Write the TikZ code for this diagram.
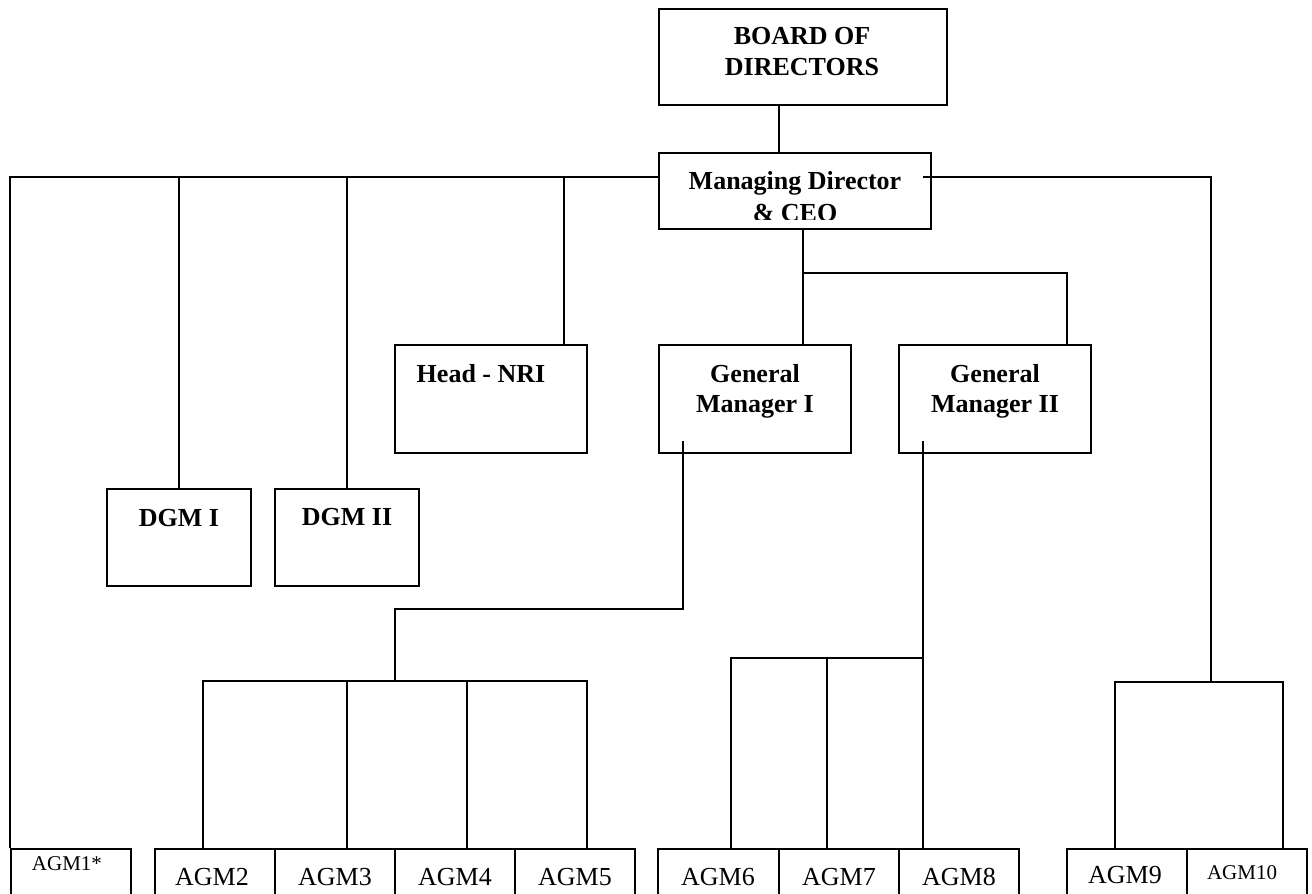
\documentclass[tikz,border=0pt]{standalone}
\usepackage{fontspec}
\setmainfont{Liberation Serif}
\usetikzlibrary{calc}
\begin{document}
\begin{tikzpicture}[x=1pt,y=-1pt,
  box/.style={draw, line width=2pt, rectangle, inner sep=0pt},
  conn/.style={line width=2pt},
  bt/.style={font=\fontsize{26}{30}\selectfont\bfseries, anchor=base, inner sep=0pt},
  rt/.style={font=\fontsize{26}{30}\selectfont, anchor=base, inner sep=0pt},
  st/.style={font=\fontsize{21}{24}\selectfont, anchor=base, inner sep=0pt}]
\useasboundingbox (0,0) rectangle (1312,894);
\clip (0,0) rectangle (1312,894);

% boxes
\node[box, minimum width=288pt, minimum height=96pt] (board) at (803,57) {};
\node[box, minimum width=272pt, minimum height=76pt] (md) at (795,191) {};
\node[box, minimum width=192pt, minimum height=108pt] (nri) at (491,399) {};
\node[box, minimum width=192pt, minimum height=108pt] (gm1) at (755,399) {};
\node[box, minimum width=192pt, minimum height=108pt] (gm2) at (995,399) {};
\node[box, minimum width=144pt, minimum height=97pt] (dgm1) at (179,537.5) {};
\node[box, minimum width=144pt, minimum height=97pt] (dgm2) at (347,537.5) {};
\node[box, minimum width=120pt, minimum height=91pt] (agm1) at (71,894.5) {};
\node[box, minimum width=120pt, minimum height=91pt] (agm2) at (215,894.5) {};
\node[box, minimum width=120pt, minimum height=91pt] (agm3) at (335,894.5) {};
\node[box, minimum width=120pt, minimum height=91pt] (agm4) at (455,894.5) {};
\node[box, minimum width=120pt, minimum height=91pt] (agm5) at (575,894.5) {};
\node[box, minimum width=121pt, minimum height=91pt] (agm6) at (718.5,894.5) {};
\node[box, minimum width=120pt, minimum height=91pt] (agm7) at (839,894.5) {};
\node[box, minimum width=120pt, minimum height=91pt] (agm8) at (959,894.5) {};
\node[box, minimum width=120pt, minimum height=91pt] (agm9) at (1127,894.5) {};
\node[box, minimum width=120pt, minimum height=91pt] (agm10) at (1247,894.5) {};

% texts
\node[bt] (tb1) at (802,44) {BOARD OF};
\node[bt] (tb2) at (802,75) {DIRECTORS};
\begin{scope}
\clip (659,150) rectangle (931,219);
\node[bt] (tm1) at (795,189) {Managing Director};
\node[bt] (tm2) at (795,221) {\& CEO};
\end{scope}
\node[bt] (tn) at (481,382) {Head - NRI};
\node[bt] (tg1a) at (755,382) {General};
\node[bt] (tg1b) at (755,412) {Manager I};
\node[bt] (tg2a) at (995,382) {General};
\node[bt] (tg2b) at (995,412) {Manager II};
\node[bt] (td1) at (179,526) {DGM I};
\node[bt] (td2) at (347,525) {DGM II};
\node[st] (ta1) at (67,870) {AGM1*};
\node[rt] (ta2) at (212,885) {AGM2};
\node[rt] (ta3) at (335,885) {AGM3};
\node[rt] (ta4) at (455,885) {AGM4};
\node[rt] (ta5) at (575,885) {AGM5};
\node[rt] (ta6) at (718,885) {AGM6};
\node[rt] (ta7) at (839,885) {AGM7};
\node[rt] (ta8) at (959,885) {AGM8};
\node[rt] (ta9) at (1125,883) {AGM9};
\node[st] (ta10) at (1242,879) {AGM10};

% junction coordinates
\coordinate (bus) at (0,177);
\coordinate (bx) at (779,0);
\coordinate (rbus) at (923,177);
\coordinate (rcorner) at (1211,177);
\coordinate (rdrop) at (1211,682);
\coordinate (j9) at (1115,682);
\coordinate (j10) at (1283,682);
\coordinate (nriTap) at ($(nri.north east)+(-24,0)$);
\coordinate (mdTap) at (803,0);
\coordinate (gmBus) at (803,273);
\coordinate (gm2Tap) at (1067,273);
\coordinate (g1s) at (683,441);
\coordinate (g1k) at (683,609);
\coordinate (g1l) at (395,609);
\coordinate (g1d) at (395,681);
\coordinate (h2) at (203,681);
\coordinate (h3) at (347,681);
\coordinate (h4) at (467,681);
\coordinate (h5) at (587,681);
\coordinate (g2s) at (923,441);
\coordinate (g2j) at (923,658);
\coordinate (h6) at (731,658);
\coordinate (h7) at (827,658);

% connectors
\draw[conn] (board.south -| bx) -- (md.north -| bx);
\draw[conn] (md.west |- bus) -- (agm1.north west |- bus) -- (agm1.north west);
\draw[conn] (dgm1.north |- bus) -- (dgm1.north);
\draw[conn] (dgm2.north |- bus) -- (dgm2.north);
\draw[conn] (nriTap |- bus) -- (nriTap);
\draw[conn] (rbus) -- (rcorner) -- (rdrop);
\draw[conn] (j9 |- agm9.north) -- (j9) -- (j10) -- (j10 |- agm10.north);
\draw[conn] (md.south -| mdTap) -- (gmBus) -- (gm2Tap) -- (gm2.north -| gm2Tap);
\draw[conn] (gmBus) -- (gm1.north -| gmBus);
\draw[conn] (g1s) -- (g1k) -- (g1l) -- (g1d);
\draw[conn] (h2 |- agm2.north) -- (h2) -- (h5) -- (h5 |- agm5.north);
\draw[conn] (h3) -- (h3 |- agm3.north);
\draw[conn] (h4) -- (h4 |- agm4.north);
\draw[conn] (g2s) -- (g2s |- agm8.north);
\draw[conn] (h6 |- agm6.north) -- (h6) -- (g2j);
\draw[conn] (h7) -- (h7 |- agm7.north);
\end{tikzpicture}
\end{document}
